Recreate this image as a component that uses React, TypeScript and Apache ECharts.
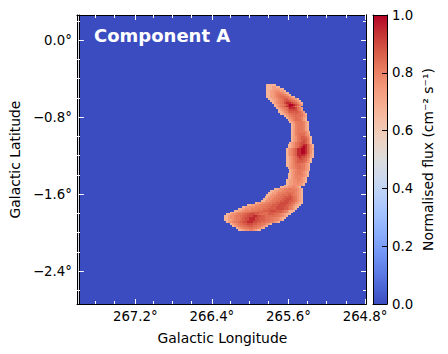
import React, { useEffect, useRef } from "react";
import * as echarts from "echarts";

const FONT = "DejaVu Sans";
const lonMajor = [267.2, 266.4, 265.6, 264.8];
const latMajor = [0.0, -0.8, -1.6, -2.4];
const lonMinor = [267.6, 267.4, 267.0, 266.8, 266.6, 266.2, 266.0, 265.8, 265.4, 265.2, 265.0];
const latMinor = [0.2, -0.2, -0.4, -0.6, -1.0, -1.2, -1.4, -1.8, -2.0, -2.2, -2.6];
const lonLeft = 267.79;
const lonRight = 264.79;
const latTop = 0.26;
const latBottom = -2.74;
const binDeg = 0.02;
const firstRow = 36;
const levelValues = [0.67, 0.73, 0.77, 0.8, 0.82, 0.84, 0.87, 0.9, 0.95, 1.0];
const rowStarts = [
  98, 98, 98, 98, 98, 98, 98, 99, 100, 101, 102, 102, 103, 104, 104, 105, 107, 108, 109, 110,
  111, 111, 111, 111, 111, 111, 111, 111, 111, 111, 110, 109, 109, 108, 108, 108, 108, 108, 108, 108,
  108, 108, 108, 109, 110, 110, 109, 109, 109, 108, 108, 108, 107, 105,
  102, 100, 99, 98, 97, 96, 95, 92, 88, 85, 83, 81, 79, 77, 76, 76, 76, 77, 79, 80, 82, 83,
];
const rowLevels = [
  "00000",
  "0001100",
  "000111100",
  "0011222110",
  "001123332100",
  "0011234443210",
  "001123455543210",
  "0011234566543210",
  "0012345677654310",
  "0123457888765310",
  "012345789987531",
  "01345788987531",
  "01234578887531",
  "0123567777531",
  "00123566666531",
  "00123455655420",
  "012345555421",
  "01234554310",
  "0124555310",
  "0124444310",
  "013444310",
  "013444310",
  "013444310",
  "013444310",
  "0134444310",
  "0134555310",
  "0134555320",
  "01245665310",
  "01245666420",
  "01245676420",
  "012456776420",
  "00124567886420",
  "00124578986420",
  "012356889986421",
  "012356889986420",
  "012356889986420",
  "012356888875310",
  "001245787764310",
  "00124567765310",
  "00124566665310",
  "00123566654210",
  "0012355544210",
  "0012345544210",
  "012345544210",
  "01234443210",
  "0123443210",
  "00123443210",
  "00123333210",
  "0012333210",
  "00112233210",
  "00112232210",
  "0011222210",
  "00112222110",
  "00112223210",
  "001223344433210",
  "00112233444443210",
  "001123344555543210",
  "0012234455566543210",
  "00122344556667654210",
  "001223445566777654210",
  "0012234455667776654210",
  "0112233445566777766542100",
  "0011223344455666777766542100",
  "001122233344455666777766543100",
  "0011222333444555666677776654310",
  "00112233344455566667776665431000",
  "001223344556666665556666666543100",
  "0012234455667776655555666554321000",
  "001223445566777887766555555443210",
  "00122344566778887766655544332100",
  "0011234456677888776665554433210",
  "0123445667788877665554433210",
  "0123455667776655443210",
  "0123445566655443210",
  "012334455443210",
  "001122332100",
];
const colorStops = [
  "#3b4cc0", "#4d68d7", "#6282ea", "#779af7", "#8db0fe", "#a3c2fe", "#b8d0f9", "#ccd9ee", "#dddddd",
  "#ecd3c5", "#f4c3ab", "#f6ae91", "#f4987a", "#e87c60", "#d75a47", "#c43234", "#b40426",
];
const colorbarValue = [1];
const colorbarTicks = [0, 0.2, 0.4, 0.6, 0.8, 1.0];

function hexToRgb(h: string) {
  return [1, 3, 5].map((i) => parseInt(h.slice(i, i + 2), 16));
}
function colormap(v: number) {
  const p = Math.max(0, Math.min(1, v)) * (colorStops.length - 1);
  const a = Math.floor(p);
  const b = Math.min(a + 1, colorStops.length - 1);
  const t = p - a;
  const ca = hexToRgb(colorStops[a]);
  const cb = hexToRgb(colorStops[b]);
  return `rgb(${ca.map((c, k) => Math.round(c + (cb[k] - c) * t)).join(",")})`;
}

const cells: number[][] = [];
rowLevels.forEach((s, r) => {
  for (let k = 0; k < s.length; k++) {
    const col = rowStarts[r] + k;
    cells.push([
      lonLeft - col * binDeg,
      latTop - (firstRow + r) * binDeg,
      levelValues[Number(s[k])],
    ]);
  }
});

const GRID = { left: 77, top: 15, width: 289, height: 289 };
const text = { color: "#000", fontFamily: FONT, fontSize: 13.9 };
const tickText = { color: "#000", fontFamily: FONT, fontSize: 13.3 };
const line = { show: true, onZero: false, lineStyle: { color: "#000", width: 1 } };

function frameAxis(base: any, values: number[], len: number, extra: any = {}) {
  return {
    type: "value",
    z: 5,
    axisLine: line,
    splitLine: { show: false },
    axisTick: { show: true, inside: true, length: len, customValues: values, lineStyle: { color: "#fff", width: 1 } },
    axisLabel: { show: false },
    ...base,
    ...extra,
  };
}

export default function App() {
  const ref = useRef<HTMLDivElement>(null);
  useEffect(() => {
    document.body.style.margin = "0";
    const chart = echarts.init(ref.current!, undefined, { renderer: "svg" });
    const xBase = { min: lonRight, max: lonLeft, inverse: true };
    const yBase = { min: latBottom, max: latTop };
    const xFmt = (v: number) => `${v.toFixed(1)}°`;
    const yFmt = (v: number) => `${v.toFixed(1).replace("-", "−")}°`;
    chart.setOption({
      animation: false,
      title: {
        text: "Component A",
        left: 89,
        top: 21,
        textStyle: { color: "#fff", fontFamily: FONT, fontWeight: "bold", fontSize: 18 },
      },
      grid: [
        { ...GRID, show: true, backgroundColor: "#3b4cc0", borderWidth: 0 },
        { ...GRID, show: false },
        { left: 373, top: 15, width: 14, height: 289, show: false },
      ],
      xAxis: [
        frameAxis(xBase, lonMajor, 5, {
          gridIndex: 0,
          position: "bottom",
          name: "Galactic Longitude",
          nameLocation: "middle",
          nameGap: 27,
          nameTextStyle: text,
          axisLabel: { show: true, customValues: lonMajor, margin: 6, formatter: xFmt, ...tickText },
        }),
        frameAxis(xBase, lonMajor, 5, { gridIndex: 0, position: "top" }),
        frameAxis(xBase, lonMinor, 3, { gridIndex: 1, position: "bottom" }),
        frameAxis(xBase, lonMinor, 3, { gridIndex: 1, position: "top" }),
        {
          type: "category", gridIndex: 2, position: "bottom", data: ["flux"], z: 5,
          axisLine: line, axisTick: { show: false }, axisLabel: { show: false },
        },
        {
          type: "category", gridIndex: 2, position: "top", data: ["flux"], z: 5,
          axisLine: line, axisTick: { show: false }, axisLabel: { show: false },
        },
      ],
      yAxis: [
        frameAxis(yBase, latMajor, 5, {
          gridIndex: 0,
          position: "left",
          name: "Galactic Latitude",
          nameLocation: "middle",
          nameGap: 55,
          nameTextStyle: text,
          axisLabel: { show: true, customValues: latMajor, margin: 7, formatter: yFmt, ...tickText },
        }),
        frameAxis(yBase, latMajor, 5, { gridIndex: 0, position: "right" }),
        frameAxis(yBase, latMinor, 3, { gridIndex: 1, position: "left" }),
        frameAxis(yBase, latMinor, 3, { gridIndex: 1, position: "right" }),
        {
          type: "value", gridIndex: 2, position: "right", min: 0, max: 1, interval: 0.2, z: 5,
          axisLine: line,
          splitLine: { show: false },
          axisTick: { show: true, inside: true, length: 5, customValues: colorbarTicks, lineStyle: { color: "#000", width: 1 } },
          axisLabel: { show: true, margin: 5, formatter: (v: number) => v.toFixed(1), ...tickText },
          name: "Normalised flux (cm⁻² s⁻¹)",
          nameLocation: "middle",
          nameGap: 34,
          nameRotate: 90,
          nameTextStyle: text,
        },
        {
          type: "value", gridIndex: 2, position: "left", min: 0, max: 1, z: 5,
          axisLine: line, splitLine: { show: false }, axisTick: { show: false }, axisLabel: { show: false },
        },
      ],
      series: [
        {
          type: "custom",
          xAxisIndex: 0,
          yAxisIndex: 0,
          encode: { x: 0, y: 1 },
          data: cells,
          clip: true,
          renderItem: (_: any, api: any) => {
            const lon = api.value(0);
            const lat = api.value(1);
            const a = api.coord([lon, lat]);
            const b = api.coord([lon - binDeg, lat - binDeg]);
            const x0 = Math.round(a[0]);
            const y0 = Math.round(a[1]);
            return {
              type: "rect",
              shape: { x: x0, y: y0, width: Math.round(b[0]) - x0, height: Math.round(b[1]) - y0 },
              style: { fill: colormap(api.value(2)) },
            };
          },
        },
        {
          type: "bar",
          xAxisIndex: 4,
          yAxisIndex: 4,
          data: colorbarValue,
          barWidth: "100%",
          itemStyle: {
            color: {
              type: "linear", x: 0, y: 1, x2: 0, y2: 0,
              colorStops: colorStops.map((c, i) => ({ offset: i / (colorStops.length - 1), color: c })),
            },
          },
        },
      ],
    });
    return () => chart.dispose();
  }, []);
  return <div ref={ref} style={{ width: 448, height: 354 }} />;
}
